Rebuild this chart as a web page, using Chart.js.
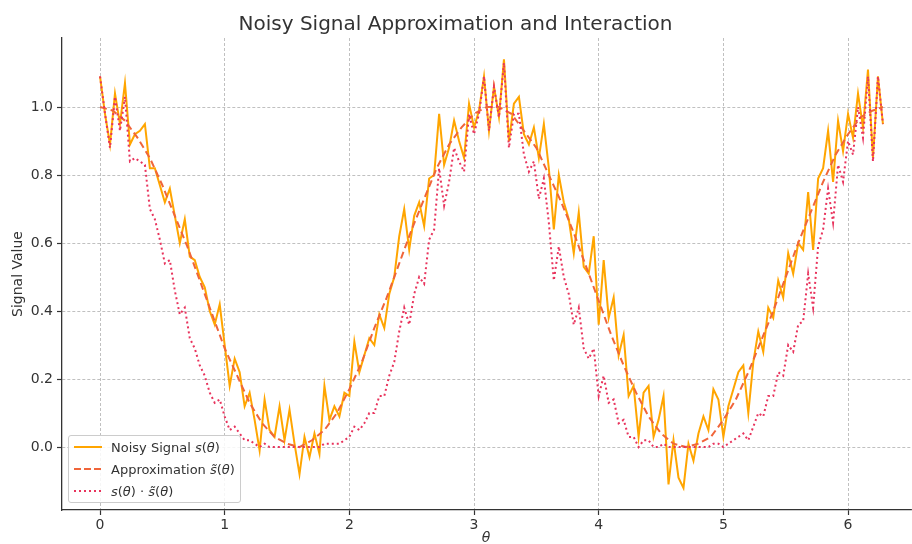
<!DOCTYPE html>
<html>
<head>
<meta charset="utf-8">
<script src="https://cdn.jsdelivr.net/npm/chart.js@4.4.0/dist/chart.umd.min.js"></script>
<style>
  body { margin: 0; background: #fff; }
  #wrap { position: relative; width: 912px; height: 544px; font-family: "DejaVu Sans", sans-serif; color: #333; }
  #legend {
    position: absolute; left: 68px; top: 435px; width: 173px; height: 68px;
    border: 1px solid #cccccc; border-radius: 3px; background: rgba(255,255,255,0.85);
    box-sizing: border-box; font-size: 13px;
  }
  .row { position: absolute; left: 4px; height: 20px; display: flex; align-items: center; white-space: nowrap; }
  .row svg { margin-right: 8px; }
  #xlabel { position: absolute; left: 486px; top: 529px; transform: translateX(-50%); font-size: 14px; font-style: italic; }
</style>
</head>
<body>
<div id="wrap">
  <canvas id="charts" width="912" height="544"></canvas>
  <div id="legend">
    <div class="row" style="top:1px">
      <svg width="30" height="4"><line x1="1" y1="2" x2="29" y2="2" stroke="#ffa500" stroke-width="2"/></svg>
      <span>Noisy Signal <i>s</i>(<i>θ</i>)</span>
    </div>
    <div class="row" style="top:23px">
      <svg width="30" height="4"><line x1="1" y1="2" x2="29" y2="2" stroke="#f0653a" stroke-width="2" stroke-dasharray="7,3"/></svg>
      <span>Approximation <i>s̃</i>(<i>θ</i>)</span>
    </div>
    <div class="row" style="top:45px">
      <svg width="30" height="4"><line x1="1" y1="2" x2="29" y2="2" stroke="#e8335c" stroke-width="2" stroke-dasharray="2,3"/></svg>
      <span><i>s</i>(<i>θ</i>) · <i>s̃</i>(<i>θ</i>)</span>
    </div>
  </div>
  <div id="xlabel">θ</div>
</div>
<script>
// sampling step of the noisy signal (theta = i * step)
const thetaStep = 0.04;

const noisySignal = [
  1.09, 0.98, 0.89, 1.04, 0.95, 1.07, 0.89, 0.92, 0.93, 0.95,
  0.82, 0.82, 0.77, 0.72, 0.76, 0.68, 0.60, 0.67, 0.56, 0.55,
  0.50, 0.47, 0.40, 0.36, 0.42, 0.30, 0.18, 0.26, 0.22, 0.12,
  0.16, 0.08, -0.01, 0.14, 0.05, 0.03, 0.12, 0.02, 0.11, 0.01,
  -0.08, 0.03, -0.03, 0.04, -0.02, 0.18, 0.08, 0.12, 0.09, 0.16,
  0.15, 0.31, 0.22, 0.27, 0.32, 0.30, 0.39, 0.35, 0.45, 0.50,
  0.62, 0.70, 0.58, 0.68, 0.72, 0.65, 0.79, 0.80, 0.98, 0.83,
  0.88, 0.96, 0.90, 0.85, 1.01, 0.94, 0.99, 1.09, 0.93, 1.06,
  0.97, 1.14, 0.90, 1.01, 1.03, 0.92, 0.89, 0.94, 0.85, 0.95,
  0.82, 0.64, 0.80, 0.72, 0.67, 0.57, 0.69, 0.53, 0.51, 0.62,
  0.36, 0.55, 0.38, 0.44, 0.27, 0.33, 0.15, 0.18, 0.03, 0.16,
  0.18, 0.03, 0.08, 0.15, -0.11, 0.02, -0.09, -0.12, 0.01, -0.04,
  0.04, 0.09, 0.05, 0.17, 0.14, 0.03, 0.12, 0.17, 0.22, 0.24,
  0.10, 0.25, 0.34, 0.28, 0.41, 0.38, 0.49, 0.44, 0.57, 0.51,
  0.60, 0.58, 0.75, 0.58, 0.79, 0.82, 0.93, 0.78, 0.96, 0.87,
  0.98, 0.91, 1.04, 0.94, 1.11, 0.85, 1.09, 0.95
];

const product = [
  1.09, 0.98, 0.88, 1.03, 0.93, 1.03, 0.84, 0.85, 0.84, 0.83,
  0.70, 0.67, 0.61, 0.54, 0.55, 0.46, 0.39, 0.41, 0.32, 0.29,
  0.24, 0.21, 0.16, 0.13, 0.14, 0.09, 0.05, 0.06, 0.04, 0.02,
  0.02, 0.01, 0.00, 0.01, 0.00, 0.00, 0.00, 0.00, 0.00, 0.00,
  0.00, 0.00, 0.00, 0.00, 0.00, 0.01, 0.01, 0.01, 0.01, 0.02,
  0.03, 0.06, 0.05, 0.07, 0.10, 0.10, 0.15, 0.15, 0.21, 0.25,
  0.34, 0.41, 0.36, 0.45, 0.50, 0.48, 0.61, 0.64, 0.82, 0.71,
  0.78, 0.88, 0.84, 0.81, 0.98, 0.92, 0.98, 1.09, 0.93, 1.06,
  0.97, 1.13, 0.88, 0.98, 0.98, 0.86, 0.81, 0.84, 0.73, 0.79,
  0.66, 0.49, 0.59, 0.50, 0.45, 0.36, 0.41, 0.29, 0.26, 0.29,
  0.15, 0.21, 0.13, 0.14, 0.07, 0.08, 0.03, 0.03, 0.00, 0.02,
  0.02, 0.00, 0.00, 0.01, 0.00, 0.00, 0.00, 0.00, 0.00, 0.00,
  0.00, 0.00, 0.00, 0.01, 0.01, 0.00, 0.01, 0.02, 0.03, 0.04,
  0.02, 0.06, 0.10, 0.09, 0.15, 0.15, 0.22, 0.21, 0.30, 0.28,
  0.36, 0.37, 0.51, 0.41, 0.59, 0.64, 0.76, 0.66, 0.83, 0.78,
  0.90, 0.86, 1.00, 0.91, 1.09, 0.84, 1.09, 0.95
];

const approxTheta = [
  0, 0.1, 0.2, 0.3, 0.4, 0.5, 0.6, 0.7, 0.8, 0.9,
  1.0, 1.1, 1.2, 1.3, 1.4, 1.5, 1.6, 1.7, 1.8, 1.9,
  2.0, 2.1, 2.2, 2.3, 2.4, 2.5, 2.6, 2.7, 2.8, 2.9,
  3.0, 3.1, 3.2, 3.3, 3.4, 3.5, 3.6, 3.7, 3.8, 3.9,
  4.0, 4.1, 4.2, 4.3, 4.4, 4.5, 4.6, 4.7, 4.8, 4.9,
  5.0, 5.1, 5.2, 5.3, 5.4, 5.5, 5.6, 5.7, 5.8, 5.9,
  6.0, 6.1, 6.2, 6.28
];
const approximation = [
  1.00, 0.99, 0.96, 0.91, 0.85, 0.77, 0.68, 0.59, 0.49, 0.39,
  0.29, 0.21, 0.13, 0.07, 0.03, 0.01, 0.00, 0.02, 0.05, 0.10,
  0.17, 0.25, 0.35, 0.44, 0.54, 0.64, 0.73, 0.82, 0.89, 0.94,
  0.98, 1.00, 1.00, 0.98, 0.93, 0.88, 0.80, 0.72, 0.63, 0.53,
  0.43, 0.33, 0.24, 0.16, 0.09, 0.04, 0.01, 0.00, 0.01, 0.03,
  0.08, 0.14, 0.22, 0.31, 0.40, 0.50, 0.60, 0.69, 0.78, 0.86,
  0.92, 0.97, 0.99, 1.00
];

const xTicks = [0, 1, 2, 3, 4, 5, 6];
const yTicks = [0.0, 0.2, 0.4, 0.6, 0.8, 1.0];

const theta = noisySignal.map((_, i) => +(i * thetaStep).toFixed(2));
const toPoints = (xs, ys) => ys.map((y, i) => ({ x: xs[i], y: y }));

const tickFont = { family: 'DejaVu Sans', size: 14 };
const gridStyle = { color: '#b0b0b0', lineWidth: 0.8, tickColor: '#333', tickLength: 5, tickWidth: 1.2 };
const borderStyle = { color: '#333', width: 1.3, dash: [3, 2] };

const ctx = document.getElementById('charts').getContext('2d');
new Chart(ctx, {
  type: 'line',
  data: {
    datasets: [
      {
        label: 'Noisy Signal s(θ)',
        data: toPoints(theta, noisySignal),
        borderColor: '#ffa500',
        borderWidth: 2,
        order: 2,
      },
      {
        label: 'Approximation s̃(θ)',
        data: toPoints(approxTheta, approximation),
        borderColor: '#f0653a',
        borderWidth: 2,
        borderDash: [7, 4],
        order: 1,
      },
      {
        label: 's(θ) · s̃(θ)',
        data: toPoints(theta, product),
        borderColor: '#e8335c',
        borderWidth: 2,
        borderDash: [2, 3],
        order: 0,
      }
    ],
  },
  options: {
    responsive: false,
    devicePixelRatio: 1,
    animation: false,
    elements: { point: { radius: 0 }, line: { tension: 0, fill: false } },
    layout: { padding: { left: 0, right: 1, top: 0, bottom: 0 } },
    plugins: {
      legend: { display: false },
      tooltip: { enabled: false },
      title: {
        display: true,
        text: 'Noisy Signal Approximation and Interaction',
        color: '#333',
        font: { family: 'DejaVu Sans', size: 20, weight: 'normal' },
        padding: { top: 13, bottom: 1 },
      },
    },
    scales: {
      x: {
        type: 'linear',
        min: -0.305,
        max: 6.505,
        afterBuildTicks: (scale) => { scale.ticks = xTicks.map(v => ({ value: v })); },
        afterFit: (scale) => { scale.height = 34; },
        ticks: { color: '#333', font: tickFont, padding: 2, maxRotation: 0, callback: v => String(v) },
        grid: gridStyle,
        border: borderStyle,
      },
      y: {
        type: 'linear',
        min: -0.185,
        max: 1.203,
        afterBuildTicks: (scale) => { scale.ticks = yTicks.map(v => ({ value: v })); },
        afterFit: (scale) => { scale.width = 62; },
        ticks: { color: '#333', font: tickFont, padding: 4, callback: v => v.toFixed(1) },
        grid: gridStyle,
        border: borderStyle,
        title: {
          display: true,
          text: 'Signal Value',
          color: '#333',
          font: { family: 'DejaVu Sans', size: 14 },
          padding: { top: 10, bottom: 0 },
        },
      },
    },
  },
});
</script>
</body>
</html>
